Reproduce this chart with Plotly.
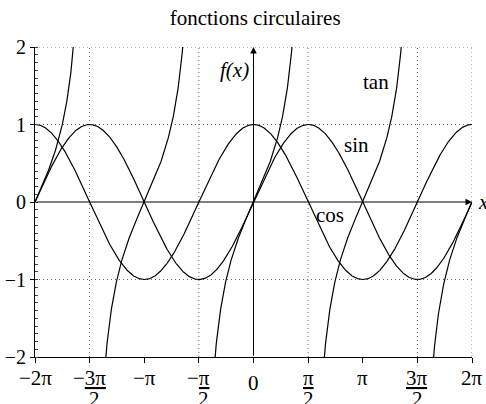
import numpy as np
import plotly.graph_objects as go

PI = np.pi

# Axis ranges and tick labels
x_min, x_max = -2 * PI, 2 * PI
y_min, y_max = -2, 2
x_tickvals = [-2 * PI, -1.5 * PI, -PI, -0.5 * PI, 0, 0.5 * PI, PI, 1.5 * PI, 2 * PI]
# (numerator / whole label, denominator or None)
x_ticklabels = [
    ("\u22122\u03c0", None),
    ("\u2212<u>3\u03c0</u>", "2"),
    ("\u2212\u03c0", None),
    ("\u2212<u>\u03c0</u>", "2"),
    ("0", None),
    ("<u>\u03c0</u>", "2"),
    ("\u03c0", None),
    ("<u>3\u03c0</u>", "2"),
    ("2\u03c0", None),
]
y_tickvals = [-2, -1, 0, 1, 2]
y_ticktext = ["\u22122", "\u22121", "0", "1", "2"]

# Dotted guide lines
x_guides = [-1.5 * PI, -0.5 * PI, 0.5 * PI, 1.5 * PI, 2 * PI]
y_guides = [-1, 1, 2]

# Curve labels (name, x, y)
curve_labels = [("tan", 3.51, 1.55), ("sin", 2.96, 0.74), ("cos", 2.21, -0.17)]

# Sampled functions
x = np.linspace(x_min, x_max, 1201)
sin_y = np.sin(x)
cos_y = np.cos(x)

# tan, one branch per interval between asymptotes
asymptotes = [-2.5 * PI, -1.5 * PI, -0.5 * PI, 0.5 * PI, 1.5 * PI, 2.5 * PI]
tan_x, tan_y = [], []
for a, b in zip(asymptotes[:-1], asymptotes[1:]):
    lo, hi = max(a, x_min), min(b, x_max)
    xs = np.linspace(lo, hi, 400)
    xs = xs[(xs > a + 0.05) & (xs < b - 0.05)]
    tan_x += list(xs) + [None]
    tan_y += list(np.tan(xs)) + [None]

FONT = "Liberation Serif"
line_style = dict(color="black", width=1.2)
guide_style = dict(color="#666", width=1, dash="1px,3px")
label_font = dict(family=FONT, size=21, color="black")

fig = go.Figure()
fig.add_trace(go.Scatter(x=x, y=sin_y, mode="lines", line=line_style, name="sin"))
fig.add_trace(go.Scatter(x=x, y=cos_y, mode="lines", line=line_style, name="cos"))
fig.add_trace(go.Scatter(x=tan_x, y=tan_y, mode="lines", line=line_style, name="tan"))

shapes = []
for gx in x_guides:
    shapes.append(dict(type="line", xref="x", yref="y", x0=gx, x1=gx, y0=y_min, y1=y_max,
                       line=guide_style, layer="below"))
for gy in y_guides:
    shapes.append(dict(type="line", xref="x", yref="y", x0=x_min, x1=x_max, y0=gy, y1=gy,
                       line=guide_style, layer="below"))

annotations = [
    # horizontal axis arrow
    dict(x=x_max, y=0, ax=x_min, ay=0, xref="x", yref="y", axref="x", ayref="y",
         text="", showarrow=True, arrowhead=2, arrowsize=1.3, arrowwidth=1, arrowcolor="black"),
    # vertical axis arrow
    dict(x=0, y=y_max, ax=0, ay=y_min, xref="x", yref="y", axref="x", ayref="y",
         text="", showarrow=True, arrowhead=2, arrowsize=1.3, arrowwidth=1, arrowcolor="black"),
    dict(x=-0.55, y=1.70, xref="x", yref="y", text="<i>f(x)</i>", showarrow=False,
         font=label_font),
    dict(x=x_max, y=0, xref="x", yref="y", text="<i>x</i>", showarrow=False,
         xanchor="left", xshift=4, font=label_font),
]
for name, lx, ly in curve_labels:
    annotations.append(dict(x=lx, y=ly, xref="x", yref="y", text=name, showarrow=False,
                            font=label_font))

# x tick labels, fractions stacked as numerator over denominator
for tv, (num, den) in zip(x_tickvals, x_ticklabels):
    if den is None:
        shift = -26 if num == "0" else -21
        annotations.append(dict(x=tv, y=0, xref="x", yref="paper", text=num, showarrow=False,
                                yanchor="middle", yshift=shift, font=label_font))
    else:
        dx = 5 if num.startswith("\u2212") else 0
        annotations.append(dict(x=tv, y=0, xref="x", yref="paper", text=num, showarrow=False,
                                yanchor="middle", yshift=-21, font=label_font))
        annotations.append(dict(x=tv, y=0, xref="x", yref="paper", text=den, showarrow=False,
                                yanchor="middle", yshift=-42, xshift=dx, font=label_font))

fig.update_layout(
    width=486, height=404,
    margin=dict(l=35, r=14, t=47, b=47),
    paper_bgcolor="white", plot_bgcolor="white",
    showlegend=False,
    font=dict(family=FONT, size=21, color="black"),
    title=dict(text="fonctions circulaires", x=0.525, xanchor="center",
               y=1 - 18 / 404, yref="container", yanchor="middle",
               font=label_font, automargin=False),
    shapes=shapes,
    annotations=annotations,
    xaxis=dict(range=[x_min, x_max], tickvals=x_tickvals, ticktext=[""] * len(x_tickvals),
               showgrid=False, zeroline=False, showline=True, linecolor="black", linewidth=1,
               ticks="outside", ticklen=5, tickcolor="black", automargin=False),
    yaxis=dict(range=[y_min, y_max], tickvals=y_tickvals, ticktext=y_ticktext,
               showgrid=False, zeroline=False, showline=True, linecolor="black", linewidth=1,
               ticks="outside", ticklen=4, tickcolor="black", automargin=False,
               minor=dict(dtick=0.1, ticks="inside", ticklen=3, tickcolor="#444", showgrid=False),
               tickfont=dict(family=FONT, size=20, color="black")),
)

fig.write_html("out.html")
